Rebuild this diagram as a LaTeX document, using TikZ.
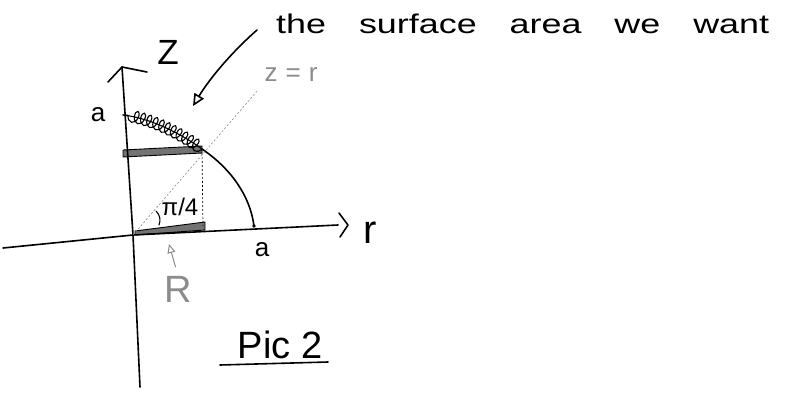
\documentclass[tikz,border=0pt]{standalone}
\usepackage{fontspec}
\usepackage{graphicx}
\setmainfont{Liberation Sans}
\newfontfamily\widefont[WordSpace=3.3]{Liberation Sans}
\usetikzlibrary{arrows.meta,decorations.pathmorphing}
\begin{document}
\begin{tikzpicture}[x=1pt,y=-1pt,
  ink/.style={line width=1.6pt, line cap=round, line join=round},
  thinink/.style={line width=1.1pt, line cap=round, line join=round},
  band/.style={draw=black, line width=0.9pt, fill=black!55, line join=round},
  guide/.style={line width=0.7pt, dash pattern=on 2pt off 2pt},
  lbl/.style={inner sep=0pt, anchor=center},
  greyink/.style={color=black!45}]
\useasboundingbox (0,0) rectangle (788,402);
\fill[white] (0,0) rectangle (788,402);
% key points
\coordinate (O) at (133,235);
\coordinate (zbot) at (140,387);
\coordinate (ztop) at (122,67);
\coordinate (zwl) at (108,82);
\coordinate (zwr) at (147,72);
\coordinate (rleft) at (3,248);
\coordinate (rend) at (338,225);
\coordinate (rw1) at (339,213);
\coordinate (rtip) at (348,225);
\coordinate (rw2) at (340,237);
\coordinate (A) at (254,226);
\coordinate (P) at (202,149);
\coordinate (B) at (123,115);
\coordinate (Pfoot) at (203,226);
\coordinate (zr) at (258,90);
% bands
\draw[band] (123,150) -- (202,146) -- (202,153) -- (123,157) -- cycle;
\draw[band] (135,231) -- (205,222) -- (205,230) -- (135,235) -- cycle;
% axes
\draw[ink] (zbot) -- (O) -- (ztop);
\draw[ink] (zwl) -- (ztop) -- (zwr);
\draw[ink] (rleft) -- (O) -- (rend);
\draw[ink] (rw1) -- (rtip) -- (rw2);
% arc
\draw[ink] (A) .. controls (250,195) and (230,168) .. (P);
\draw[thinink] (P) .. controls (180,133) and (150,118) .. (B);
\draw[thinink, decorate, decoration={coil, amplitude=6pt, segment length=6.5pt, aspect=0.6}]
  (P) .. controls (180,133) and (150,118) .. (B);
\fill (A) circle (1.8pt);
% guides
\draw[guide] (P) -- (Pfoot);
\draw[guide, greyink, line width=0.6pt] (O) -- (zr);
% angle mark
\coordinate (ang1) at (159,225);
\coordinate (ang2) at (156,211);
\draw[thinink] (ang1) .. controls (161,220) and (160,215) .. (ang2);
% labels
\node[lbl, font=\fontsize{35}{40}\selectfont] (zlab) at (168,52) {Z};
\node[lbl, font=\fontsize{26}{30}\selectfont] (az) at (98,115) {a};
\node[lbl, font=\fontsize{26}{30}\selectfont] (ar) at (262,250) {a};
\node[lbl, font=\fontsize{40}{44}\selectfont] (rlab) at (370,233) {r};
\node[lbl, font=\fontsize{24}{28}\selectfont] (ang) at (180,207) {π/4};
\node[lbl, greyink, font=\fontsize{26}{30}\selectfont] (zrlab) at (291,75) {z\hspace{8pt}=\hspace{8pt}r};
\node[lbl, greyink, font=\fontsize{38}{42}\selectfont] (Rlab) at (178,289) {R};
\coordinate (Rtip) at (169,244);
\draw[greyink, line width=1pt, shorten <=9pt, -{Triangle[open, length=9pt, width=8pt]}] (Rlab.north) -- (Rtip);
% title and its arrow
\node[anchor=base west, inner sep=0pt] (title) at (276,33)
  {\scalebox{1.33}[1]{\widefont\fontsize{27}{32}\selectfont the surface area we want}};
\coordinate (cstart) at (257,30);
\coordinate (ctip) at (193,106);
\draw[ink, -{Triangle[open, length=12pt, width=11pt]}] (cstart) .. controls (232,52) and (210,78) .. (ctip);
% Pic 2
\node[lbl, font=\fontsize{38}{42}\selectfont] (pic) at (280,345) {Pic 2};
\coordinate (ul1) at (220,365);
\coordinate (ul2) at (328,362);
\draw[ink] (ul1) -- (ul2);
\end{tikzpicture}
\end{document}
